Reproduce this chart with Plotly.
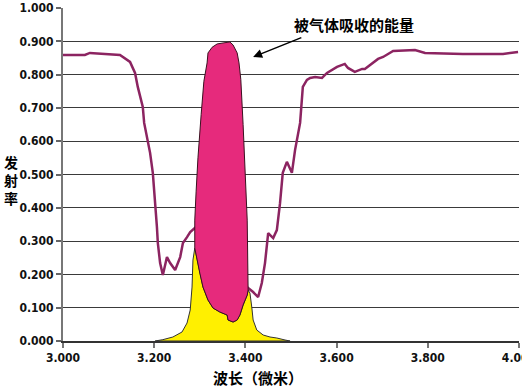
import plotly.graph_objects as go

# Emissivity curve (wavelength in microns, emissivity)
wl = [3.000, 3.048, 3.059, 3.114, 3.125, 3.147, 3.158, 3.164, 3.175, 3.178, 3.184,
      3.191, 3.197, 3.202, 3.206, 3.208, 3.213, 3.219, 3.228, 3.235, 3.246, 3.257,
      3.263, 3.272, 3.279, 3.289,
      3.406, 3.417, 3.428, 3.436, 3.443, 3.450, 3.461, 3.469, 3.476, 3.482, 3.491,
      3.502, 3.509, 3.520, 3.524, 3.526, 3.535, 3.542, 3.553, 3.568, 3.579, 3.601,
      3.618, 3.625, 3.640, 3.656, 3.662, 3.673, 3.691, 3.702, 3.724, 3.772, 3.794,
      3.877, 3.965, 3.998]
emis = [0.859, 0.859, 0.865, 0.860, 0.859, 0.838, 0.805, 0.763, 0.703, 0.655, 0.613,
        0.565, 0.505, 0.423, 0.342, 0.294, 0.234, 0.198, 0.252, 0.234, 0.213, 0.252,
        0.294, 0.312, 0.327, 0.339,
        0.159, 0.147, 0.132, 0.174, 0.234, 0.324, 0.309, 0.333, 0.414, 0.505, 0.538,
        0.505, 0.574, 0.655, 0.745, 0.763, 0.784, 0.790, 0.793, 0.790, 0.805, 0.823,
        0.832, 0.820, 0.808, 0.817, 0.817, 0.829, 0.847, 0.853, 0.871, 0.874, 0.865,
        0.862, 0.862, 0.868]

# Energy absorbed by gas (magenta region outline)
abs_x = [3.289, 3.289, 3.292, 3.296, 3.303, 3.309, 3.316, 3.318, 3.327, 3.338, 3.351,
         3.366, 3.373, 3.382, 3.386, 3.390, 3.395, 3.399, 3.404, 3.406,
         3.404, 3.395, 3.388, 3.382, 3.373, 3.362, 3.360, 3.344, 3.329, 3.318,
         3.307, 3.300, 3.296, 3.289]
abs_y = [0.279, 0.363, 0.450, 0.550, 0.680, 0.780, 0.835, 0.865, 0.882, 0.892, 0.895,
         0.898, 0.889, 0.865, 0.835, 0.785, 0.650, 0.500, 0.363, 0.153,
         0.138, 0.108, 0.078, 0.063, 0.057, 0.063, 0.078, 0.087, 0.099, 0.123,
         0.162, 0.204, 0.234, 0.279]

# Emitted energy (yellow region outline)
emit_x = [3.202, 3.219, 3.241, 3.261, 3.272, 3.279, 3.283, 3.285, 3.289,
          3.296, 3.300, 3.307, 3.318, 3.329, 3.344, 3.360, 3.362, 3.373, 3.382,
          3.388, 3.395, 3.404, 3.406,
          3.410, 3.414, 3.417, 3.425, 3.439, 3.454, 3.469, 3.487, 3.498, 3.202]
emit_y = [0.000, 0.004, 0.012, 0.027, 0.054, 0.093, 0.162, 0.243, 0.279,
          0.234, 0.204, 0.162, 0.123, 0.099, 0.087, 0.078, 0.063, 0.057, 0.063,
          0.078, 0.108, 0.138, 0.153,
          0.144, 0.102, 0.063, 0.033, 0.018, 0.012, 0.009, 0.003, 0.000, 0.000]

y_ticks = [0.0, 0.1, 0.2, 0.3, 0.4, 0.5, 0.6, 0.7, 0.8, 0.9, 1.0]
x_ticks = [3.0, 3.2, 3.4, 3.6, 3.8, 4.0]

fig = go.Figure()
fig.add_trace(go.Scatter(x=wl, y=emis, mode="lines",
                         line=dict(color="#8C2461", width=2.5), hoverinfo="skip"))
fig.add_trace(go.Scatter(x=emit_x, y=emit_y, mode="lines", fill="toself",
                         fillcolor="#FFF000", line=dict(color="#333333", width=1),
                         hoverinfo="skip"))
fig.add_trace(go.Scatter(x=abs_x, y=abs_y, mode="lines", fill="toself",
                         fillcolor="#E62A7C", line=dict(color="#3a1020", width=1),
                         hoverinfo="skip"))

tick_font = dict(family="DejaVu Sans Condensed", size=12, color="#111111", weight="bold")
cjk = "Noto Sans CJK SC"

fig.update_layout(
    template="none",
    width=522, height=388,
    margin=dict(l=63, r=3, t=8, b=47),
    paper_bgcolor="white", plot_bgcolor="white",
    showlegend=False,
    xaxis=dict(range=[3.0, 4.0001], tickvals=x_ticks, tickformat=".3f",
               ticks="outside", ticklen=5, tickcolor="#777777", tickwidth=1.5,
               showgrid=False, zeroline=False, showline=True,
               linecolor="#333333", linewidth=2, tickfont=tick_font,
               ticklabeloverflow="allow", automargin=False),
    yaxis=dict(range=[0, 1.0], tickvals=y_ticks, tickformat=".3f",
               ticks="outside", ticklen=5, tickcolor="#666666", tickwidth=1.5,
               showgrid=True, gridcolor="#3a3a3a", gridwidth=1.3,
               zeroline=False, showline=True, linecolor="#777777", linewidth=2,
               tickfont=tick_font, automargin=False),
    annotations=[
        dict(text="被气体吸收的能量", xref="paper", yref="paper",
             x=(354 - 63) / 456, y=(341 - 25) / 333, showarrow=False,
             font=dict(family=cjk, size=15, color="black", weight="bold"),
             xanchor="center", yanchor="middle"),
        dict(text="", x=3.417, y=0.853, ax=3.526, ay=0.913, xref="x", yref="y",
             axref="x", ayref="y", showarrow=True, arrowhead=2, arrowsize=1.2,
             arrowwidth=1.5, arrowcolor="black"),
        dict(text="发<br>射<br>率", xref="paper", yref="paper",
             x=(11 - 63) / 456, y=(341 - 180) / 333, showarrow=False,
             font=dict(family=cjk, size=14, color="black", weight="bold"),
             xanchor="center", yanchor="middle"),
        dict(text="波长（微米）", xref="paper", yref="paper",
             x=(258 - 63) / 456, y=(341 - 377) / 333, showarrow=False,
             font=dict(family=cjk, size=15, color="black", weight="bold"),
             xanchor="center", yanchor="middle"),
    ],
)

fig.write_html("out.html", config={"displayModeBar": False},
               post_script="document.body.style.margin='0';document.body.style.overflow='hidden';")
